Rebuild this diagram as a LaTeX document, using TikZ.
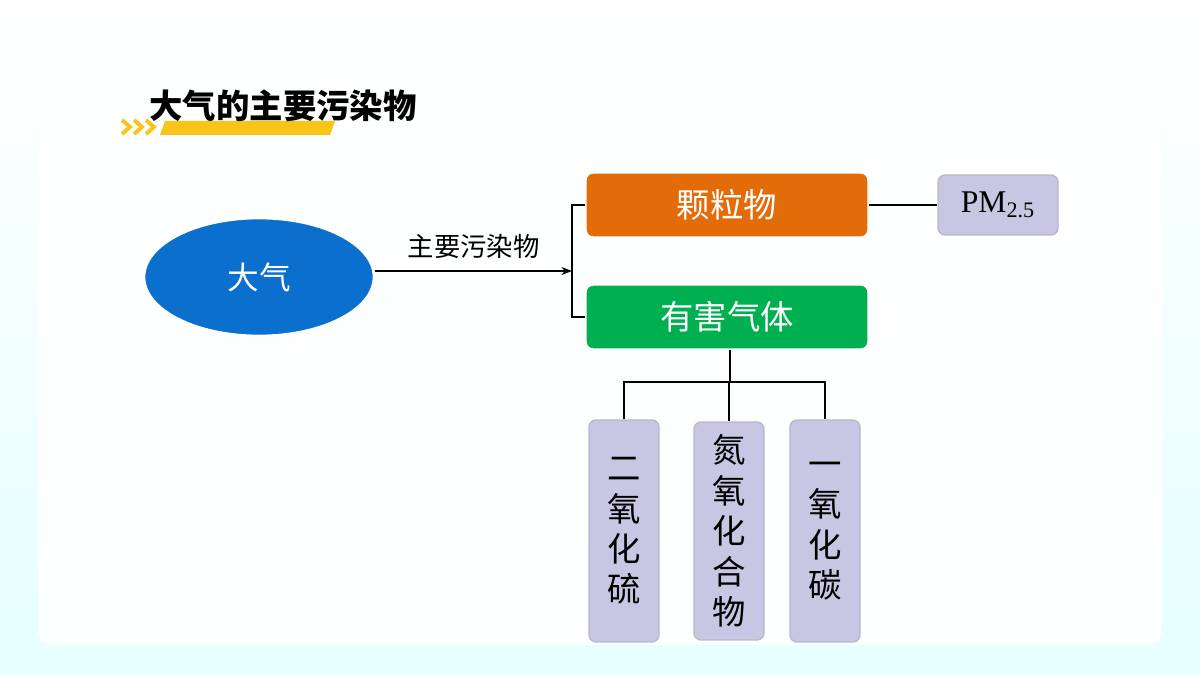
\documentclass[tikz,border=0pt]{standalone}
\usepackage{fontspec}
\setmainfont{Liberation Serif}
\newfontfamily\cjk{Noto Sans CJK SC}
\usetikzlibrary{positioning,shapes.geometric,arrows.meta}
\definecolor{skyblue}{HTML}{0B6FCE}
\definecolor{rust}{HTML}{E36C0A}
\definecolor{leaf}{HTML}{00B050}
\definecolor{lilac}{HTML}{C8C6E2}
\definecolor{sun}{HTML}{F7C518}
\begin{document}
\begin{tikzpicture}[x=0.02cm, y=-0.02cm, thick,
    catbox/.style = {draw=white, fill=#1, rounded corners=4pt, minimum width=5.64cm, minimum height=1.28cm, text=white, font=\cjk\fontsize{19}{19}\selectfont},
    kind/.style = {draw=lilac!80!gray, fill=lilac, rounded corners=4pt, minimum width=1.4cm, text width=1.1cm, align=center, font=\cjk\fontsize{19}{23}\selectfont},
    wire/.style = {draw=black, line width=0.9pt}]
    \useasboundingbox (0,0) rectangle (1200,675);
    \shade[top color=white, bottom color=cyan!10] (0,0) rectangle (1200,675);
    \fill[white, opacity=0.9, rounded corners=8pt] (38,28) rectangle (1162,645);
    % title
    \fill[sun] (165,121) -- (335,121) -- (330,135) -- (160,135) -- cycle;
    \foreach \dx in {0,12,24}
        \draw[sun, line width=2.2pt] (122+\dx,120) -- (130+\dx,127) -- (122+\dx,134);
    \node[anchor=west, font=\cjk\bfseries\fontsize{19}{19}\selectfont] (title) at (143,106) {大气的主要污染物};
    % left part
    \node[ellipse, draw=white, line width=1.5pt, fill=skyblue, minimum width=4.6cm, minimum height=2.36cm, text=white, font=\cjk\fontsize{18}{18}\selectfont] (air) at (259,277) {大气};
    \coordinate (fork) at (572,271);
    \draw[wire, -{Stealth[length=6pt]}] (air.east |- fork) -- node[above=3pt, font=\cjk\fontsize{15}{15}\selectfont] (via) {主要污染物} (fork);
    \node[catbox=rust] (dust) at (727,205) {颗粒物};
    \node[catbox=leaf] (gas) at (727,317) {有害气体};
    \draw[wire] (dust.west) -- (572,205) -- (572,317) -- (gas.west);
    \node[draw=lilac!80!gray, fill=lilac, rounded corners=4pt, minimum width=2.4cm, minimum height=1.2cm, font=\fontsize{18}{18}\selectfont] (pm) at (998,205) {PM\textsubscript{2.5}};
    \draw[wire] (dust.east) -- (pm.west);
    % gases
    \node[kind, minimum height=4.44cm] (so2) at (624,531) {二\\氧\\化\\硫};
    \node[kind, minimum height=4.36cm] (nox) at (729,531) {氮\\氧\\化\\合\\物};
    \node[kind, minimum height=4.44cm] (co) at (825,531) {一\\氧\\化\\碳};
    \draw[wire] (gas.south -| 730,0) -- (730,382);
    \draw[wire] (so2.north) -- (so2.north |- 0,382) -- (co.north |- 0,382) -- (co.north);
    \draw[wire] (nox.north) -- (nox.north |- 0,382);
\end{tikzpicture}
\end{document}
